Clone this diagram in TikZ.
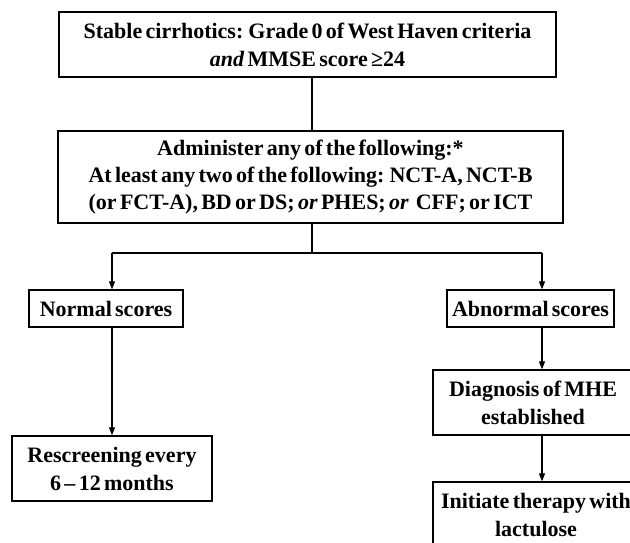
\documentclass[tikz,border=0pt]{standalone}
\usepackage{fontspec}
\setmainfont{Liberation Serif}[WordSpace=0.6]
\usetikzlibrary{arrows.meta}
\begin{document}
\begin{tikzpicture}[x=1pt,y=-1pt,
  box/.style={draw=black,line width=1.3pt,align=center,inner sep=0pt,
    font=\fontsize{22}{28}\selectfont\bfseries},
  link/.style={line width=1.2pt},
  arr/.style={line width=1.2pt,-{Triangle[length=8pt,width=6pt]}}]
\useasboundingbox (0,0) rectangle (630,543);
\clip (0,0) rectangle (630,543);
\node[box,minimum width=497,minimum height=65] (top) at (307.5,44.5)
  {Stable cirrhotics: Grade 0 of West Haven criteria\\ \textit{and} MMSE score ≥24};
\node[box,minimum width=505,minimum height=92,font=\fontsize{22}{27}\selectfont\bfseries] (tests) at (310.5,177)
  {Administer any of the following:*\\
   At least any two of the following: NCT-A, NCT-B\\
   (or FCT-A), BD or DS; \textit{or} PHES; \textit{or}\, CFF; or ICT};
\node[box,minimum width=154,minimum height=37] (normal) at (106,308.5) {Normal scores};
\node[box,minimum width=167,minimum height=37] (abnormal) at (530.5,308.5) {Abnormal scores};
\node[box,minimum width=200,minimum height=65] (resc) at (112,468.5) {Rescreening every\\ 6 – 12 months};
\node[box,minimum width=200,minimum height=65] (diag) at (533,402.5) {Diagnosis of MHE\\ established};
\node[box,minimum width=206,minimum height=65] (init) at (536,514.5) {Initiate therapy with\\ lactulose};
\coordinate (split) at (312,253);
\coordinate (lx) at (112,253);
\coordinate (rx) at (542,253);
\draw[link] (top.south -| split) -- (tests.north -| split);
\draw[link] (tests.south -| split) -- (split);
\draw[link] (lx) -- (rx);
\draw[arr] (lx) -- (lx |- normal.north);
\draw[arr] (rx) -- (rx |- abnormal.north);
\draw[arr] (lx |- normal.south) -- (lx |- resc.north);
\draw[arr] (rx |- abnormal.south) -- (rx |- diag.north);
\draw[arr] (rx |- diag.south) -- (rx |- init.north);
\end{tikzpicture}
\end{document}
